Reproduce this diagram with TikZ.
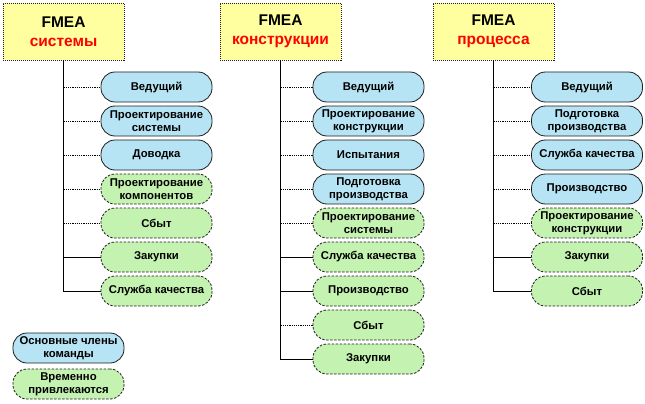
\documentclass[tikz,border=0pt]{standalone}
\usepackage{fontspec}
\setmainfont{Liberation Sans}
\definecolor{hdrfill}{RGB}{255,255,160}
\definecolor{corefill}{RGB}{182,228,244}
\definecolor{tempfill}{RGB}{196,242,176}
\definecolor{hdrred}{RGB}{255,0,0}
\definecolor{edge}{RGB}{30,30,30}
\begin{document}
\begin{tikzpicture}[x=1pt,y=-1pt,
  hdr/.style={draw=edge,line width=0.8pt,dash pattern=on 1pt off 1pt,fill=hdrfill,
    minimum width=121pt,minimum height=57pt,inner sep=0pt,align=center,
    font=\fontsize{15.5}{19}\selectfont\bfseries},
  pill/.style={rectangle,rounded corners=14pt,minimum width=111pt,minimum height=30pt,
    inner sep=0pt,align=center,font=\fontsize{11.3}{13}\selectfont\bfseries,line width=0.8pt},
  core/.style={pill,draw=edge,fill=corefill},
  temp/.style={pill,draw=edge,dash pattern=on 2.5pt off 1.5pt,fill=tempfill},
  sl/.style={draw=black,line width=0.9pt},
  dl/.style={draw=black,line width=0.9pt,dash pattern=on 1.2pt off 1pt}]
\useasboundingbox (0,0) rectangle (645,404);

% headers
\node[hdr] (h1) at (63.5,31.5) {FMEA\\\textcolor{hdrred}{системы}};
\node[hdr] (h2) at (280.5,31.5) {FMEA\\\textcolor{hdrred}{конструкции}};
\node[hdr] (h3) at (493.5,31.5) {FMEA\\\textcolor{hdrred}{процесса}};

% column 1
\node[core] (a1) at (156.5,87) {Ведущий};
\node[core] (a2) at (156.5,121) {Проектирование\\системы};
\node[core] (a3) at (156.5,155) {Доводка};
\node[temp] (a4) at (156.5,189) {Проектирование\\компонентов};
\node[temp] (a5) at (156.5,223) {Сбыт};
\node[temp] (a6) at (156.5,257) {Закупки};
\node[temp] (a7) at (156.5,291) {Служба качества};

% column 2
\node[core] (b1) at (368.5,87) {Ведущий};
\node[core] (b2) at (368.5,121) {Проектирование\\конструкции};
\node[core] (b3) at (368.5,155) {Испытания};
\node[core] (b4) at (368.5,189) {Подготовка\\производства};
\node[temp] (b5) at (368.5,223) {Проектирование\\системы};
\node[temp] (b6) at (368.5,257) {Служба качества};
\node[temp] (b7) at (368.5,291) {Производство};
\node[temp] (b8) at (368.5,325) {Сбыт};
\node[temp] (b9) at (368.5,359) {Закупки};

% column 3
\node[core] (c1) at (587,87) {Ведущий};
\node[core] (c2) at (587,121) {Подготовка\\производства};
\node[core] (c3) at (587,155) {Служба качества};
\node[core] (c4) at (587,189) {Производство};
\node[temp] (c5) at (587,223) {Проектирование\\конструкции};
\node[temp] (c6) at (587,257) {Закупки};
\node[temp] (c7) at (587,291) {Сбыт};

% legend
\node[core] (l1) at (68.5,348) {Основные члены\\команды};
\node[temp] (l2) at (68.5,384) {Временно\\привлекаются};

% connectors
\draw[sl] (h1.south) |- (a7.west);
\draw[sl] (h1.south) |- (a6.west);
\foreach \n in {a1,a2,a3,a4,a5} \draw[dl] (h1.south |- \n.west) -- (\n.west);

\draw[sl] (h2.south) |- (b9.west);
\draw[sl] (h2.south) |- (b7.west);
\draw[sl] (h2.south) |- (b6.west);
\foreach \n in {b1,b2,b3,b4,b5,b8} \draw[dl] (h2.south |- \n.west) -- (\n.west);

\draw[sl] (h3.south) |- (c7.west);
\draw[sl] (h3.south) |- (c6.west);
\foreach \n in {c1,c2,c3,c4,c5} \draw[dl] (h3.south |- \n.west) -- (\n.west);
\end{tikzpicture}
\end{document}
